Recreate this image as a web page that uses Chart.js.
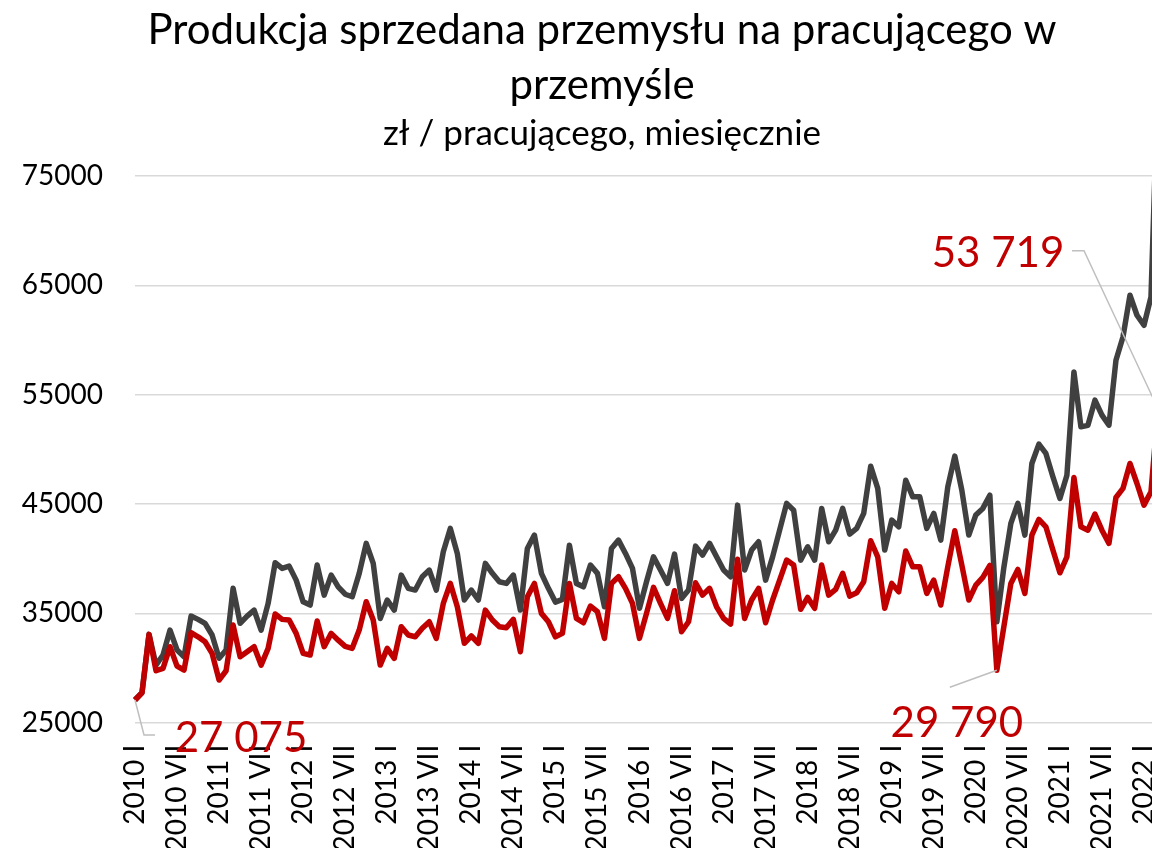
<!DOCTYPE html>
<html>
<head>
<meta charset="utf-8">
<script src="https://cdn.jsdelivr.net/npm/chart.js@4"></script>
<style>
  html, body { margin: 0; padding: 0; background: #fff; overflow: hidden; width: 1152px; height: 848px; }
  #wrap { position: absolute; left: 0; top: 0; width: 1204px; height: 900px; }
</style>
</head>
<body>
<div id="wrap"><canvas id="c" width="1204" height="900"></canvas></div>
<script>
// ---- data ----
const years = [2010, 2011, 2012, 2013, 2014, 2015, 2016, 2017, 2018, 2019, 2020, 2021, 2022];
const monthNames = ['I','II','III','IV','V','VI','VII','VIII','IX','X','XI','XII'];

// grey series (upper line)
const seriesGrey = [
  27075, 27750, 33080, 30270, 31190, 33470, 31650, 31030, 34750, 34450, 34090, 33020,
  30890, 31650, 37290, 34090, 34750, 35300, 33470, 35910, 39630, 39110, 39320, 38040,
  36060, 35760, 39420, 36670, 38500, 37430, 36750, 36520, 38660, 41400, 39570, 34540,
  36220, 35300, 38500, 37290, 37130, 38350, 38960, 37130, 40630, 42770, 40480, 36220,
  37130, 36220, 39570, 38660, 37890, 37740, 38500, 35300, 40940, 42160, 38660, 37290,
  36030, 36280, 41240, 37740, 37430, 39420, 38660, 35600, 40940, 41700, 40480, 39110,
  35460, 37890, 40170, 38960, 37740, 40420, 36370, 37130, 41150, 40330, 41400, 40170,
  38960, 38350, 44900, 38960, 40790, 41550, 38040, 40170, 42610, 45060, 44440, 39870,
  41090, 39870, 44600, 41550, 42610, 44600, 42250, 42770, 44140, 48460, 46430, 40790,
  43530, 42920, 47180, 45660, 45660, 42770, 44140, 41700, 46570, 49380, 46270, 42160,
  44000, 44600, 45810, 34230, 39200, 43230, 45060, 42160, 48710, 50480, 49630, 47490,
  45510, 47640, 57080, 52060, 52200, 54500, 53130, 52210, 58150, 60280, 64100, 62270,
  61350, 63940, 84000
];

// red series (lower line)
const seriesRed = [
  27075, 27742, 33080, 29750, 29970, 31950, 30180, 29820, 33230, 32860, 32400, 31340,
  28900, 29750, 33930, 31030, 31490, 31950, 30270, 31800, 34940, 34450, 34390, 33170,
  31340, 31190, 34300, 31950, 33170, 32550, 31980, 31800, 33470, 36060, 34390, 30270,
  31800, 30890, 33780, 33020, 32860, 33630, 34230, 32715, 35910, 37740, 35600, 32260,
  32930, 32260, 35300, 34390, 33780, 33680, 34450, 31490, 36520, 37740, 35000, 34230,
  32860, 33170, 37740, 34540, 34140, 35670, 35150, 32715, 37740, 38350, 37290, 35910,
  32715, 35000, 37380, 35910, 34540, 37070, 33320, 34230, 37800, 36670, 37290, 35600,
  34540, 34020, 39940, 34540, 36220, 37290, 34140, 36220, 38040, 39870, 39420, 35370,
  36460, 35460, 39420, 36670, 37190, 38660, 36580, 36880, 37890, 41640, 40170, 35460,
  37740, 36970, 40700, 39260, 39260, 36830, 38040, 35760, 39260, 42550, 39420, 36220,
  37590, 38300, 39400, 29790, 33780, 37740, 39020, 36830, 42160, 43590, 42920, 40790,
  38710, 40170, 47430, 42920, 42610, 44080, 42610, 41400, 45600, 46430, 48710, 46880,
  44900, 46120, 53719
];

const yTicks = [25000, 35000, 45000, 55000, 65000, 75000];
const shownMonths = ['I', 'VII'];
const labelledPoints = [0, 123, 146]; // indices of the red series that carry value labels

const categories = [];
for (const y of years) for (const m of monthNames) categories.push(y + ' ' + m);
categories.length = seriesRed.length;

// ---- styles ----
const FONT = 'Lato, "Open Sans", "Noto Sans", sans-serif';
const RED = '#C00000';
const GREY = '#404040';

function fmtPl(v) {
  return String(Math.round(v)).replace(/\B(?=(\d{3})+(?!\d))/g, ' ');
}

// label offsets relative to their point (pixels), and leader line vertices
const labelLayout = {
  0:   { dx: 106, dy: 38,  leader: [[9, 35], [20, 35]] },
  123: { dx: -40, dy: 53,  leader: [[-47, 17]] },
  146: { dx: -160, dy: -155, leader: [[-74, -158], [-86, -158]] }
};

const valueLabels = {
  id: 'valueLabels',
  afterDatasetsDraw(chart) {
    const meta = chart.getDatasetMeta(0);
    const ctx = chart.ctx;
    ctx.save();
    for (const idx of labelledPoints) {
      const pt = meta.data[idx];
      const L = labelLayout[idx];
      ctx.strokeStyle = '#BFBFBF';
      ctx.lineWidth = 1.5;
      ctx.beginPath();
      ctx.moveTo(pt.x, pt.y);
      for (const [lx, ly] of L.leader) ctx.lineTo(pt.x + lx, pt.y + ly);
      ctx.stroke();
      ctx.fillStyle = RED;
      ctx.font = '42px ' + FONT;
      ctx.textAlign = 'center';
      ctx.textBaseline = 'middle';
      ctx.fillText(fmtPl(seriesRed[idx]), pt.x + L.dx, pt.y + L.dy);
    }
    ctx.restore();
  }
};

const H = 900;
new Chart(document.getElementById('c'), {
  type: 'line',
  data: {
    labels: categories,
    datasets: [
      {
        label: 'czerwona',
        data: seriesRed,
        borderColor: RED,
        backgroundColor: RED,
        borderWidth: 5.5,
        pointRadius: 0,
        tension: 0,
        borderJoinStyle: 'round',
        order: 0
      },
      {
        label: 'szara',
        data: seriesGrey,
        borderColor: GREY,
        backgroundColor: GREY,
        borderWidth: 5.5,
        pointRadius: 0,
        tension: 0,
        borderJoinStyle: 'round',
        order: 1
      }
    ]
  },
  options: {
    responsive: false,
    animation: false,
    devicePixelRatio: 1,
    layout: { padding: { left: 0, right: 0, top: 0, bottom: 0 } },
    plugins: {
      legend: { display: false },
      tooltip: { enabled: false },
      title: {
        display: true,
        text: ['Produkcja sprzedana przemysłu na pracującego w', 'przemyśle'],
        color: '#000',
        font: { family: FONT, size: 42, weight: 'normal', lineHeight: 1.31 },
        padding: { top: 3, bottom: 0 }
      },
      subtitle: {
        display: true,
        text: 'zł / pracującego, miesięcznie',
        color: '#000',
        font: { family: FONT, size: 35, weight: 'normal', lineHeight: 1.2 },
        padding: { top: 0, bottom: 21 }
      }
    },
    scales: {
      x: {
        type: 'category',
        offset: false,
        grid: { display: false, drawTicks: false },
        border: { display: false },
        afterFit(scale) {
          scale.height = H - 722.7;
          scale.paddingRight = 46;
        },
        ticks: {
          autoSkip: false,
          minRotation: 90,
          maxRotation: 90,
          padding: 22,
          color: '#000',
          font: { family: FONT, size: 28 },
          callback(val, idx) {
            const lab = categories[idx];
            const m = lab.split(' ')[1];
            return shownMonths.includes(m) ? lab : '';
          }
        }
      },
      y: {
        min: yTicks[0],
        max: yTicks[yTicks.length - 1],
        afterFit(scale) { scale.width = 135; },
        afterBuildTicks(scale) { scale.ticks = yTicks.map(v => ({ value: v })); },
        grid: { color: '#D9D9D9', lineWidth: 1.5, drawTicks: false },
        border: { display: false },
        ticks: {
          padding: 32,
          color: '#000',
          font: { family: FONT, size: 28 },
          callback(v) { return String(v); }
        }
      }
    }
  },
  plugins: [valueLabels]
});
</script>
</body>
</html>
